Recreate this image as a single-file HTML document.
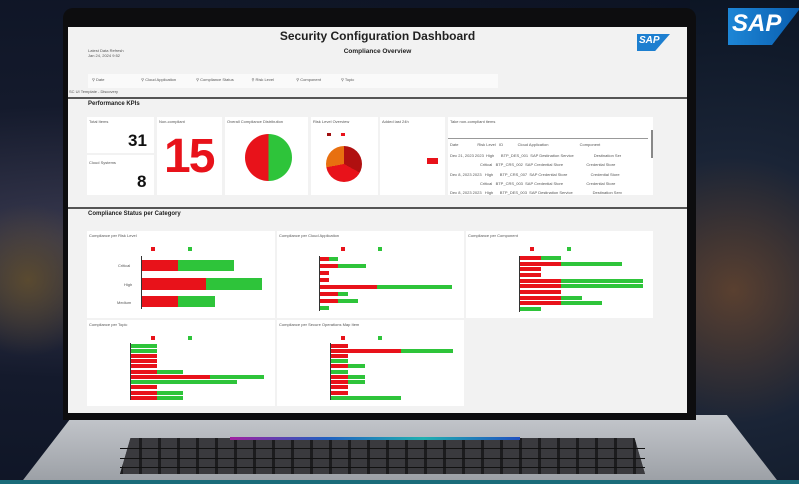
<!DOCTYPE html>
<html><head><meta charset="utf-8"><style>
*{margin:0;padding:0;box-sizing:border-box}
body{width:799px;height:484px;overflow:hidden;position:relative;font-family:"Liberation Sans",sans-serif;background:radial-gradient(ellipse at 10% 50%,#3a3a50 0%,#141a2c 40%,#0b1222 100%)}
.a{position:absolute}
.t{position:absolute;font-size:4px;color:#555;white-space:nowrap}
.r{position:absolute;background:#e8121a}
.g{position:absolute;background:#2ec43a}
.card{position:absolute;background:#fff}
</style></head><body>
<div class="a" style="left:690px;top:0;width:109px;height:484px;background:radial-gradient(circle at 40% 60%,#5a4030 0%,#1a2436 45%,#0c1524 100%)"></div>
<div class="a" style="left:0;top:200px;width:70px;height:200px;background:radial-gradient(circle at 40% 40%,#5a4a30 0%,transparent 60%)"></div>
<div class="a" style="left:728px;top:8px;width:71px;height:37px;background:linear-gradient(90deg,#1d86d6,#0a5fb0);clip-path:polygon(0 0,100% 0,100% 5%,62% 100%,0 100%)"></div>
<div class="a" style="left:732px;top:10px;font-size:24px;font-weight:bold;color:#fff;font-style:italic">SAP</div>
<div class="a" style="left:20px;top:415px;width:760px;height:69px;background:linear-gradient(#c4c7cc,#9a9ea4);clip-path:polygon(7% 0,93% 0,100% 100%,0 100%)"></div>
<div class="a" style="left:120px;top:438px;width:525px;height:36px;background:repeating-linear-gradient(90deg,#1c1c1e 0 3px,#3a3a3e 3px 19px),#222;clip-path:polygon(2% 0,98% 0,100% 100%,0 100%)"></div>
<div class="a" style="left:120px;top:448px;width:525px;height:1px;background:#111"></div>
<div class="a" style="left:120px;top:458px;width:525px;height:1px;background:#111"></div>
<div class="a" style="left:120px;top:467px;width:525px;height:1px;background:#111"></div>
<div class="a" style="left:230px;top:437px;width:290px;height:3px;background:linear-gradient(90deg,#a020a0,#2060c0,#20b0b0,#2050c0)"></div>
<div class="a" style="left:0;top:480px;width:799px;height:4px;background:#1a6c7a"></div>
<div class="a" style="left:63px;top:8px;width:633px;height:412px;background:#0d0d0f;border-radius:10px 10px 0 0"></div>
<div class="a" style="left:68px;top:27px;width:619px;height:386px;background:#f2f2f2"></div>
<div class="a" style="left:68px;top:97px;width:619px;height:2px;background:#555"></div>
<div class="a" style="left:68px;top:207px;width:619px;height:2px;background:#555"></div>
<div class="a" style="left:68px;width:619px;text-align:center;font-size:12px;font-weight:bold;color:#222;top:29px">Security Configuration Dashboard</div>
<div class="a" style="left:68px;width:619px;text-align:center;font-size:6.5px;font-weight:bold;color:#222;top:48px">Compliance Overview</div>
<div class="a" style="left:637px;top:34px;width:33px;height:17px;background:#1d7fd0;clip-path:polygon(0 0,100% 0,55% 100%,0 100%)"></div>
<div class="a" style="left:639px;top:35px;font-size:10px;font-weight:bold;color:#fff;font-style:italic">SAP</div>
<div class="t" style="left:88px;top:48px">Latest Data Refresh<br>Jan 24, 2024 9:52</div>
<div class="a" style="left:88px;top:74px;width:410px;height:14px;background:#fafafa"></div>
<div class="t" style="left:92px;top:77px">⚲ Date &nbsp;&nbsp;&nbsp;&nbsp;&nbsp;&nbsp;&nbsp;&nbsp;&nbsp;&nbsp;&nbsp;&nbsp;&nbsp;&nbsp;&nbsp;&nbsp;&nbsp;&nbsp;&nbsp;&nbsp;&nbsp;&nbsp;&nbsp;&nbsp;&nbsp;&nbsp;&nbsp;&nbsp;&nbsp;&nbsp;&nbsp;&nbsp;⚲ Cloud Application &nbsp;&nbsp;&nbsp;&nbsp;&nbsp;&nbsp;&nbsp;&nbsp;&nbsp;&nbsp;&nbsp;&nbsp;&nbsp;&nbsp;&nbsp;&nbsp;&nbsp;⚲ Compliance Status &nbsp;&nbsp;&nbsp;&nbsp;&nbsp;&nbsp;&nbsp;&nbsp;&nbsp;&nbsp;&nbsp;&nbsp;&nbsp;&nbsp;&nbsp;⚲ Risk Level &nbsp;&nbsp;&nbsp;&nbsp;&nbsp;&nbsp;&nbsp;&nbsp;&nbsp;&nbsp;&nbsp;&nbsp;&nbsp;&nbsp;&nbsp;&nbsp;&nbsp;&nbsp;&nbsp;⚲ Component &nbsp;&nbsp;&nbsp;&nbsp;&nbsp;&nbsp;&nbsp;&nbsp;&nbsp;&nbsp;&nbsp;&nbsp;&nbsp;&nbsp;&nbsp;&nbsp;&nbsp;⚲ Topic</div>
<div class="t" style="left:69px;top:89px">SC UI Template - Discovery</div>
<div class="a" style="left:88px;top:101px;font-size:6px;font-weight:bold;color:#222">Performance KPIs</div>
<div class="card" style="left:87px;top:117px;width:67px;height:36px"></div>
<div class="card" style="left:87px;top:155px;width:67px;height:40px"></div>
<div class="t" style="left:89px;top:119px">Total Items</div>
<div class="a" style="left:128px;top:131px;font-size:17px;font-weight:bold;color:#111">31</div>
<div class="t" style="left:89px;top:160px">Cloud Systems</div>
<div class="a" style="left:137px;top:172px;font-size:17px;font-weight:bold;color:#111">8</div>
<div class="card" style="left:157px;top:117px;width:65px;height:78px"></div>
<div class="t" style="left:159px;top:119px">Non-compliant</div>
<div class="a" style="left:164px;top:129px;font-size:48px;font-weight:bold;color:#e8121a;letter-spacing:-2px">15</div>
<div class="card" style="left:225px;top:117px;width:83px;height:78px"></div>
<div class="t" style="left:227px;top:119px">Overall Compliance Distribution</div>
<div class="a" style="left:245px;top:134px;width:47px;height:47px;border-radius:50%;background:conic-gradient(#2ec43a 0 50%,#e8121a 50% 100%)"></div>
<div class="card" style="left:311px;top:117px;width:67px;height:78px"></div>
<div class="t" style="left:313px;top:119px">Risk Level Overview</div>
<div class="a" style="left:326px;top:146px;width:36px;height:36px;border-radius:50%;background:conic-gradient(#b01010 0 33%,#e8121a 33% 72%,#e87010 72% 100%)"></div>
<div class="r" style="left:327px;top:133px;width:4px;height:3px;background:#a01010"></div><div class="r" style="left:341px;top:133px;width:4px;height:3px"></div>
<div class="card" style="left:380px;top:117px;width:65px;height:78px"></div>
<div class="t" style="left:382px;top:119px">Added last 24h</div>
<div class="r" style="left:427px;top:158px;width:11px;height:6px"></div>
<div class="card" style="left:448px;top:117px;width:205px;height:78px"></div>
<div class="t" style="left:450px;top:119px">Take non-compliant items</div>
<div class="a" style="left:448px;top:138px;width:200px;height:1px;background:#999"></div>
<div class="t" style="left:450px;top:142px">Date &nbsp;&nbsp;&nbsp;&nbsp;&nbsp;&nbsp;&nbsp;&nbsp;&nbsp;&nbsp;&nbsp;&nbsp;&nbsp;&nbsp;&nbsp;&nbsp;Risk Level &nbsp;&nbsp;ID &nbsp;&nbsp;&nbsp;&nbsp;&nbsp;&nbsp;&nbsp;&nbsp;&nbsp;&nbsp;&nbsp;&nbsp;Cloud Application &nbsp;&nbsp;&nbsp;&nbsp;&nbsp;&nbsp;&nbsp;&nbsp;&nbsp;&nbsp;&nbsp;&nbsp;&nbsp;&nbsp;&nbsp;&nbsp;&nbsp;&nbsp;&nbsp;&nbsp;&nbsp;&nbsp;&nbsp;&nbsp;&nbsp;&nbsp;&nbsp;Component</div>
<div class="t" style="left:450px;top:151px;line-height:9.3px">Dec 21, 2023 2023 &nbsp;High &nbsp;&nbsp;&nbsp;&nbsp;&nbsp;BTP_DES_001 &nbsp;SAP Destination Service &nbsp;&nbsp;&nbsp;&nbsp;&nbsp;&nbsp;&nbsp;&nbsp;&nbsp;&nbsp;&nbsp;&nbsp;&nbsp;&nbsp;&nbsp;&nbsp;&nbsp;Destination Ser<br>&nbsp;&nbsp;&nbsp;&nbsp;&nbsp;&nbsp;&nbsp;&nbsp;&nbsp;&nbsp;&nbsp;&nbsp;&nbsp;&nbsp;&nbsp;&nbsp;&nbsp;&nbsp;&nbsp;&nbsp;&nbsp;&nbsp;&nbsp;&nbsp;&nbsp;&nbsp;&nbsp;Critical &nbsp;&nbsp;BTP_CRS_002 &nbsp;SAP Credential Store &nbsp;&nbsp;&nbsp;&nbsp;&nbsp;&nbsp;&nbsp;&nbsp;&nbsp;&nbsp;&nbsp;&nbsp;&nbsp;&nbsp;&nbsp;&nbsp;&nbsp;&nbsp;&nbsp;&nbsp;Credential Store<br>Dec 8, 2023 2023 &nbsp;&nbsp;High &nbsp;&nbsp;&nbsp;&nbsp;&nbsp;BTP_CRS_007 &nbsp;SAP Credential Store &nbsp;&nbsp;&nbsp;&nbsp;&nbsp;&nbsp;&nbsp;&nbsp;&nbsp;&nbsp;&nbsp;&nbsp;&nbsp;&nbsp;&nbsp;&nbsp;&nbsp;&nbsp;&nbsp;&nbsp;Credential Store<br>&nbsp;&nbsp;&nbsp;&nbsp;&nbsp;&nbsp;&nbsp;&nbsp;&nbsp;&nbsp;&nbsp;&nbsp;&nbsp;&nbsp;&nbsp;&nbsp;&nbsp;&nbsp;&nbsp;&nbsp;&nbsp;&nbsp;&nbsp;&nbsp;&nbsp;&nbsp;&nbsp;Critical &nbsp;&nbsp;BTP_CRS_003 &nbsp;SAP Credential Store &nbsp;&nbsp;&nbsp;&nbsp;&nbsp;&nbsp;&nbsp;&nbsp;&nbsp;&nbsp;&nbsp;&nbsp;&nbsp;&nbsp;&nbsp;&nbsp;&nbsp;&nbsp;&nbsp;&nbsp;Credential Store<br>Dec 8, 2023 2023 &nbsp;&nbsp;High &nbsp;&nbsp;&nbsp;&nbsp;&nbsp;BTP_DES_003 &nbsp;SAP Destination Service &nbsp;&nbsp;&nbsp;&nbsp;&nbsp;&nbsp;&nbsp;&nbsp;&nbsp;&nbsp;&nbsp;&nbsp;&nbsp;&nbsp;&nbsp;&nbsp;&nbsp;Destination Serv</div>
<div class="a" style="left:651px;top:130px;width:2px;height:28px;background:#888"></div>
<div class="a" style="left:88px;top:211px;font-size:6px;font-weight:bold;color:#222">Compliance Status per Category</div>
<div class="card" style="left:87px;top:231px;width:188px;height:87px"></div>
<div class="card" style="left:277px;top:231px;width:187px;height:87px"></div>
<div class="card" style="left:466px;top:231px;width:187px;height:87px"></div>
<div class="card" style="left:87px;top:320px;width:188px;height:86px"></div>
<div class="card" style="left:277px;top:320px;width:187px;height:86px"></div>
<div class="t" style="left:89px;top:233px">Compliance per Risk Level</div>
<div class="t" style="left:279px;top:233px">Compliance per Cloud Application</div>
<div class="t" style="left:468px;top:233px">Compliance per Component</div>
<div class="t" style="left:89px;top:322px">Compliance per Topic</div>
<div class="t" style="left:279px;top:322px">Compliance per Secure Operations Map Item</div>
<div class="r" style="left:151px;top:247px;width:4px;height:4px"></div><div class="g" style="left:188px;top:247px;width:4px;height:4px"></div>
<div class="r" style="left:341px;top:247px;width:4px;height:4px"></div><div class="g" style="left:378px;top:247px;width:4px;height:4px"></div>
<div class="r" style="left:530px;top:247px;width:4px;height:4px"></div><div class="g" style="left:567px;top:247px;width:4px;height:4px"></div>
<div class="r" style="left:151px;top:336px;width:4px;height:4px"></div><div class="g" style="left:188px;top:336px;width:4px;height:4px"></div>
<div class="r" style="left:341px;top:336px;width:4px;height:4px"></div><div class="g" style="left:378px;top:336px;width:4px;height:4px"></div>
<div class="a" style="left:141px;top:256px;width:1px;height:53px;background:#333"></div>
<div class="r" style="left:142px;top:260px;width:36px;height:11px"></div><div class="g" style="left:178px;top:260px;width:56px;height:11px"></div>
<div class="r" style="left:142px;top:278px;width:64px;height:12px"></div><div class="g" style="left:206px;top:278px;width:56px;height:12px"></div>
<div class="r" style="left:142px;top:296px;width:36px;height:11px"></div><div class="g" style="left:178px;top:296px;width:37px;height:11px"></div>
<div class="t" style="left:118px;top:263px">Critical</div><div class="t" style="left:124px;top:282px">High</div><div class="t" style="left:117px;top:300px">Medium</div>
<div class="a" style="left:319px;top:256px;width:1px;height:55px;background:#333"></div>
<div class="r" style="left:320px;top:257px;width:9px;height:4px"></div><div class="g" style="left:329px;top:257px;width:9px;height:4px"></div>
<div class="r" style="left:320px;top:264px;width:18px;height:4px"></div><div class="g" style="left:338px;top:264px;width:28px;height:4px"></div>
<div class="r" style="left:320px;top:271px;width:9px;height:4px"></div>
<div class="r" style="left:320px;top:278px;width:9px;height:4px"></div>
<div class="r" style="left:320px;top:285px;width:57px;height:4px"></div><div class="g" style="left:377px;top:285px;width:75px;height:4px"></div>
<div class="r" style="left:320px;top:292px;width:18px;height:4px"></div><div class="g" style="left:338px;top:292px;width:10px;height:4px"></div>
<div class="r" style="left:320px;top:299px;width:18px;height:4px"></div><div class="g" style="left:338px;top:299px;width:20px;height:4px"></div>
<div class="g" style="left:320px;top:306px;width:9px;height:4px"></div>
<div class="a" style="left:519px;top:256px;width:1px;height:56px;background:#333"></div>
<div class="r" style="left:520px;top:256px;width:21px;height:4px"></div><div class="g" style="left:541px;top:256px;width:20px;height:4px"></div>
<div class="r" style="left:520px;top:262px;width:41px;height:4px"></div><div class="g" style="left:561px;top:262px;width:61px;height:4px"></div>
<div class="r" style="left:520px;top:267px;width:21px;height:4px"></div>
<div class="r" style="left:520px;top:273px;width:21px;height:4px"></div>
<div class="r" style="left:520px;top:279px;width:41px;height:4px"></div><div class="g" style="left:561px;top:279px;width:82px;height:4px"></div>
<div class="r" style="left:520px;top:284px;width:41px;height:4px"></div><div class="g" style="left:561px;top:284px;width:82px;height:4px"></div>
<div class="r" style="left:520px;top:290px;width:41px;height:4px"></div>
<div class="r" style="left:520px;top:296px;width:41px;height:4px"></div><div class="g" style="left:561px;top:296px;width:21px;height:4px"></div>
<div class="r" style="left:520px;top:301px;width:41px;height:4px"></div><div class="g" style="left:561px;top:301px;width:41px;height:4px"></div>
<div class="g" style="left:520px;top:307px;width:21px;height:4px"></div>
<div class="a" style="left:130px;top:343px;width:1px;height:57px;background:#333"></div>
<div class="g" style="left:131px;top:344px;width:26px;height:4px"></div>
<div class="g" style="left:131px;top:349px;width:26px;height:4px"></div>
<div class="r" style="left:131px;top:354px;width:26px;height:4px"></div>
<div class="r" style="left:131px;top:359px;width:26px;height:4px"></div>
<div class="r" style="left:131px;top:364px;width:26px;height:4px"></div>
<div class="r" style="left:131px;top:370px;width:26px;height:4px"></div><div class="g" style="left:157px;top:370px;width:26px;height:4px"></div>
<div class="r" style="left:131px;top:375px;width:79px;height:4px"></div><div class="g" style="left:210px;top:375px;width:54px;height:4px"></div>
<div class="g" style="left:131px;top:380px;width:106px;height:4px"></div>
<div class="r" style="left:131px;top:385px;width:26px;height:4px"></div>
<div class="r" style="left:131px;top:391px;width:26px;height:4px"></div><div class="g" style="left:157px;top:391px;width:26px;height:4px"></div>
<div class="r" style="left:131px;top:396px;width:26px;height:4px"></div><div class="g" style="left:157px;top:396px;width:26px;height:4px"></div>
<div class="a" style="left:330px;top:343px;width:1px;height:57px;background:#333"></div>
<div class="r" style="left:331px;top:344px;width:17px;height:4px"></div>
<div class="r" style="left:331px;top:349px;width:70px;height:4px"></div><div class="g" style="left:401px;top:349px;width:52px;height:4px"></div>
<div class="r" style="left:331px;top:354px;width:17px;height:4px"></div>
<div class="g" style="left:331px;top:359px;width:17px;height:4px"></div>
<div class="r" style="left:331px;top:364px;width:17px;height:4px"></div><div class="g" style="left:348px;top:364px;width:17px;height:4px"></div>
<div class="g" style="left:331px;top:370px;width:17px;height:4px"></div>
<div class="r" style="left:331px;top:375px;width:17px;height:4px"></div><div class="g" style="left:348px;top:375px;width:17px;height:4px"></div>
<div class="r" style="left:331px;top:380px;width:17px;height:4px"></div><div class="g" style="left:348px;top:380px;width:17px;height:4px"></div>
<div class="r" style="left:331px;top:385px;width:17px;height:4px"></div>
<div class="r" style="left:331px;top:391px;width:17px;height:4px"></div>
<div class="g" style="left:331px;top:396px;width:70px;height:4px"></div>
</body></html>
